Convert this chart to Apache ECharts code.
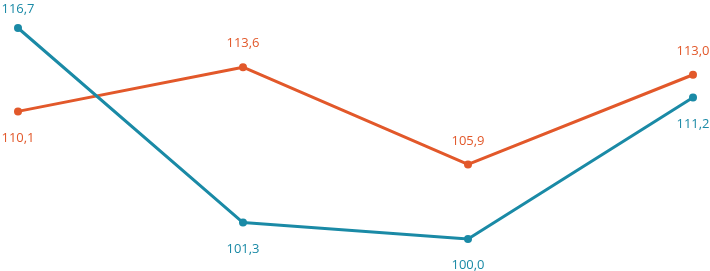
<!DOCTYPE html>
<html><head><meta charset="utf-8">
<script src="https://cdn.jsdelivr.net/npm/echarts@6/dist/echarts.min.js"></script>
<style>html,body{margin:0;padding:0;background:#fff}#c{width:710px;height:271px}</style>
</head><body><div id="c"></div>
<script>
const categories = ['1', '2', '3', '4'];
const tealValues = [116.7, 101.3, 100.0, 111.2];
const orangeValues = [110.1, 113.6, 105.9, 113.0];
const tealLabelPos = ['top', 'bottom', 'bottom', 'bottom'];
const orangeLabelPos = ['bottom', 'top', 'top', 'top'];

const TEAL = '#1a8aa6', ORANGE = '#e2582a';
function fmt(v){ return v.toFixed(1).replace('.', ','); }
function mk(vals, pos){
  return vals.map((v,i)=>({value:v, label:{position:pos[i], distance: pos[i]==='top'?(v>116?8:13):16}}));
}
const chart = echarts.init(document.getElementById('c'), null, {renderer:'canvas'});
chart.setOption({
  animation:false,
  grid:{left:18, right:17, top:28, bottom:32},
  xAxis:{type:'category', data:categories, boundaryGap:false, show:false},
  yAxis:{type:'value', min:100, max:116.7, show:false},
  series:[
    {type:'line', data:mk(orangeValues, orangeLabelPos), symbol:'circle', symbolSize:8,
     lineStyle:{color:ORANGE, width:3}, itemStyle:{color:ORANGE},
     label:{show:true, color:ORANGE, fontFamily:'Open Sans', fontSize:13,
       formatter:p=>fmt(p.value)}},
    {type:'line', data:mk(tealValues, tealLabelPos), symbol:'circle', symbolSize:8,
     lineStyle:{color:TEAL, width:3}, itemStyle:{color:TEAL},
     label:{show:true, color:TEAL, fontFamily:'Open Sans', fontSize:13,
       formatter:p=>fmt(p.value)}}
  ]
});
</script></body></html>
